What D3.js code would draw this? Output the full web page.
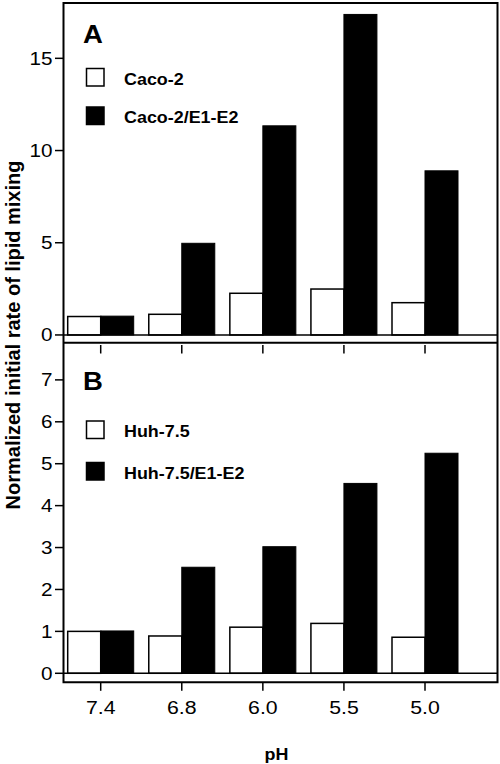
<!DOCTYPE html>
<html><head><meta charset="utf-8">
<script src="https://cdn.jsdelivr.net/npm/d3@7"></script>
<style>html,body{margin:0;padding:0;background:#fff;}svg{display:block;}</style>
</head><body>
<script>
const categories = ["7.4", "6.8", "6.0", "5.5", "5.0"];
const cacoValues = [1.0, 1.12, 2.26, 2.49, 1.75];
const cacoE1E2Values = [1.02, 4.97, 11.34, 17.38, 8.9];
const huhValues = [1.0, 0.89, 1.1, 1.19, 0.86];
const huhE1E2Values = [1.01, 2.53, 3.02, 4.53, 5.25];
const ticksA = [0, 5, 10, 15];
const ticksB = [0, 1, 2, 3, 4, 5, 6, 7];
const seriesA = ["Caco-2", "Caco-2/E1-E2"];
const seriesB = ["Huh-7.5", "Huh-7.5/E1-E2"];

const W = 500, H = 764;
const svg = d3.select("body").append("svg").attr("width", W).attr("height", H);
const FONT = "'Liberation Sans', Arial, Helvetica, sans-serif";
const SX = 1.13;

const x = d3.scaleLinear().domain([0, categories.length - 1]).range([100.7, 425]);
const left = 63.5, right = 497.5;
const barW = 33;

const yA = d3.scaleLinear().domain([-0.42, 18]).range([342.7, 3]);
const yB = d3.scaleLinear().domain([-0.215, 7.88]).range([682.3, 343]);

function txt(g, s, px, py, size, weight, anchor, sx) {
  g.append("text").attr("transform", `translate(${px},${py}) scale(${sx},1)`)
    .attr("text-anchor", anchor).attr("font-family", FONT)
    .attr("font-size", size).attr("font-weight", weight).attr("fill", "#000").text(s);
}

function panel(y, ticks, white, black, letter, names, top, bottom, legendY, xTickTop) {
  const g = svg.append("g");
  // bars
  categories.forEach((c, i) => {
    g.append("rect").attr("x", x(i) - barW).attr("y", y(white[i]))
      .attr("width", barW).attr("height", y(0) - y(white[i]))
      .attr("fill", "#fff").attr("stroke", "#000").attr("stroke-width", 1.5);
    g.append("rect").attr("x", x(i)).attr("y", y(black[i]))
      .attr("width", barW).attr("height", y(0) - y(black[i]))
      .attr("fill", "#000").attr("stroke", "#000").attr("stroke-width", 1);
  });
  // zero line
  g.append("line").attr("x1", left).attr("x2", right).attr("y1", y(0)).attr("y2", y(0))
    .attr("stroke", "#000").attr("stroke-width", 1.5);
  // y axis ticks + labels
  ticks.forEach(t => {
    g.append("line").attr("x1", left - 8.5).attr("x2", left).attr("y1", y(t)).attr("y2", y(t))
      .attr("stroke", "#000").attr("stroke-width", 1.5);
    txt(g, String(t), left - 11, y(t) + 6.5, 18, "normal", "end", 1.15);
  });
  // x ticks
  categories.forEach((c, i) => {
    g.append("line").attr("x1", x(i)).attr("x2", x(i)).attr("y1", xTickTop).attr("y2", xTickTop + 8.5)
      .attr("stroke", "#000").attr("stroke-width", 1.5);
  });
  // letter
  txt(g, letter, 83, top + legendY.letter, 25, "bold", "start", 1.1);
  // legend
  const sq = 17.5;
  [[white, "#fff", names[0], legendY.s1], [black, "#000", names[1], legendY.s2]].forEach(([, fill, name, ly]) => {
    g.append("rect").attr("x", 86.5).attr("y", top + ly).attr("width", sq).attr("height", sq)
      .attr("fill", fill).attr("stroke", "#000").attr("stroke-width", 1.5);
    txt(g, name, 124, top + ly + 16.2, 16, "bold", "start", 1.12);
  });
}

panel(yA, ticksA, cacoValues, cacoE1E2Values, "A", seriesA, 3, 342.7,
  {letter: 39.5, s1: 65.5, s2: 104}, 345);
panel(yB, ticksB, huhValues, huhE1E2Values, "B", seriesB, 343, 682.3,
  {letter: 47, s1: 78, s2: 119.5}, 682.3);

// frame
const fr = svg.append("g").attr("fill", "none").attr("stroke", "#000").attr("stroke-width", 2);
fr.append("path").attr("d", `M${left},682.3 L${left},3 L${right},3 L${right},682.3 Z`);
fr.append("line").attr("x1", left).attr("x2", right).attr("y1", 342.7).attr("y2", 342.7);

// x tick labels
categories.forEach((c, i) => {
  txt(svg, c, x(i), 713.5, 18.5, "normal", "middle", 1.15);
});

// axis titles
txt(svg, "pH", 276.5, 760, 16, "bold", "middle", 1.12);
svg.append("text").attr("transform", "translate(19.5,335) rotate(-90)")
  .attr("text-anchor", "middle").attr("font-family", FONT).attr("font-size", 20)
  .attr("font-weight", "bold").text("Normalized initial rate of lipid mixing");
</script>
</body></html>
